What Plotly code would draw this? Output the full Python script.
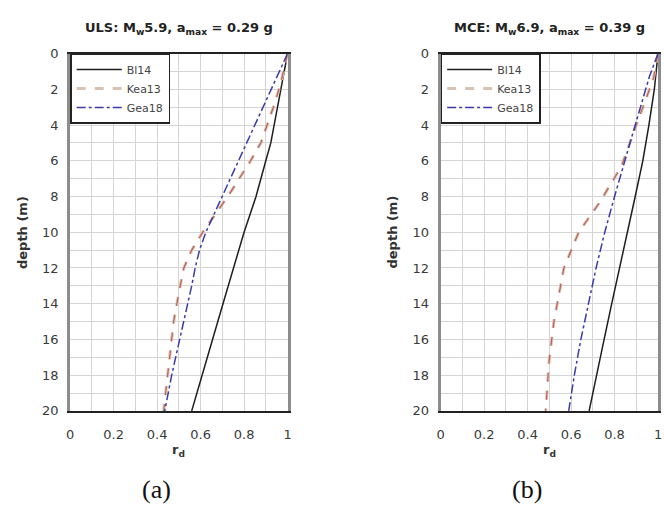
import plotly.graph_objects as go

# ---- data: depth (m) and depth-reduction factor r_d ----
# ULS: Mw 5.9, amax = 0.29 g
uls_bl14_depth = [0, 2, 4, 5, 6, 8, 10, 12, 14, 16, 18, 20]
uls_bl14_rd = [1.0, 0.97, 0.94, 0.923, 0.90, 0.855, 0.80, 0.75, 0.703, 0.655, 0.607, 0.559]

uls_kea13_depth = [0, 1.7, 3, 5, 6, 7.7, 9, 9.9, 11, 12, 13, 15, 17.5, 20]
uls_kea13_rd = [1.0, 0.968, 0.935, 0.877, 0.83, 0.741, 0.668, 0.615, 0.559, 0.523, 0.506, 0.476, 0.453, 0.43]

uls_gea18_depth = [0, 2, 4, 6, 8, 10, 11, 12, 13, 14, 16, 18, 20]
uls_gea18_rd = [1.0, 0.925, 0.85, 0.774, 0.698, 0.624, 0.595, 0.575, 0.559, 0.54, 0.503, 0.467, 0.435]

# MCE: Mw 6.9, amax = 0.39 g
mce_bl14_depth = [0, 2, 4, 6, 8, 10, 12, 14, 16, 18, 20]
mce_bl14_rd = [1.0, 0.983, 0.958, 0.93, 0.895, 0.858, 0.822, 0.787, 0.752, 0.718, 0.683]

mce_kea13_depth = [0, 1.4, 4, 6.3, 8.3, 10, 12, 15, 17.2, 20]
mce_kea13_rd = [1.0, 0.979, 0.90, 0.832, 0.733, 0.635, 0.567, 0.521, 0.499, 0.483]

mce_gea18_depth = [0, 1.3, 4, 6, 8, 10, 12, 14, 16, 18, 20]
mce_gea18_rd = [1.0, 0.96, 0.895, 0.846, 0.80, 0.755, 0.715, 0.68, 0.645, 0.615, 0.589]

series_names = ["Bl14", "Kea13", "Gea18"]
panel_titles = ["ULS: M<sub>w</sub>5.9, a<sub>max</sub> = 0.29 g",
                "MCE: M<sub>w</sub>6.9, a<sub>max</sub> = 0.39 g"]
panel_captions = ["(a)", "(b)"]
x_ticks = [0, 0.2, 0.4, 0.6, 0.8, 1]
x_tick_text = ["0", "0.2", "0.4", "0.6", "0.8", "1"]
y_ticks = list(range(0, 21, 2))

W, H = 664, 515
FONT = "DejaVu Sans"

# plot-area rectangles in pixels (left, right, top, bottom)
panels = [(67, 287, 48, 416), (442, 662, 48, 416)]


def px(x):
    return x / W


def py(y):
    return 1 - y / H


fig = go.Figure()

data = [
    [(uls_bl14_depth, uls_bl14_rd), (uls_kea13_depth, uls_kea13_rd), (uls_gea18_depth, uls_gea18_rd)],
    [(mce_bl14_depth, mce_bl14_rd), (mce_kea13_depth, mce_kea13_rd), (mce_gea18_depth, mce_gea18_rd)],
]

for i, panel in enumerate(data):
    xa = "x" if i == 0 else "x2"
    ya = "y" if i == 0 else "y2"
    lg = "legend" if i == 0 else "legend2"
    (d0, r0), (d1, r1), (d2, r2) = panel
    fig.add_trace(go.Scatter(x=r0, y=d0, mode="lines", name=series_names[0],
                             line=dict(color="#1e1e1e", width=1.5),
                             xaxis=xa, yaxis=ya, legend=lg))
    fig.add_trace(go.Scatter(x=r1, y=d1, mode="lines", name=series_names[1],
                             line=dict(color="#d8c3b0", width=3, dash="dash"),
                             xaxis=xa, yaxis=ya, legend=lg))
    fig.add_trace(go.Scatter(x=r1, y=d1, mode="lines", name=series_names[1],
                             line=dict(color="#bf5a55", width=1.1, dash="dash"),
                             xaxis=xa, yaxis=ya, legend=lg, showlegend=False))
    fig.add_trace(go.Scatter(x=r2, y=d2, mode="lines", name=series_names[2],
                             line=dict(color="#3a3aa8", width=1.5, dash="dashdot"),
                             xaxis=xa, yaxis=ya, legend=lg))

axis_common_x = dict(
    range=[0, 1], tickvals=x_ticks, ticktext=x_tick_text,
    showgrid=True, gridcolor="#d4d4d4", gridwidth=1,
    minor=dict(dtick=0.1, showgrid=True, gridcolor="#d4d4d4", gridwidth=1),
    showline=True, linecolor="#222222", linewidth=2, mirror=True,
    ticks="", zeroline=False, ticklabelstandoff=11,
    tickfont=dict(family=FONT, size=13, color="#3a3a3a"),
    fixedrange=True,
)
axis_common_y = dict(
    range=[20, 0], tickvals=y_ticks,
    showgrid=True, gridcolor="#d4d4d4", gridwidth=1,
    minor=dict(dtick=1, showgrid=True, gridcolor="#d4d4d4", gridwidth=1),
    showline=True, linecolor="#8c8c8c", linewidth=3, mirror=True,
    ticks="", zeroline=False, ticklabelstandoff=6,
    tickfont=dict(family=FONT, size=13, color="#3a3a3a"),
    fixedrange=True,
)

(l0, r0_, t0, b0), (l1, r1_, t1, b1) = panels
fig.update_layout(
    width=W, height=H,
    margin=dict(l=0, r=0, t=0, b=0),
    paper_bgcolor="white", plot_bgcolor="white",
    xaxis=dict(domain=[px(l0), px(r0_)], anchor="y", **axis_common_x),
    yaxis=dict(domain=[py(b0), py(t0)], anchor="x", **axis_common_y),
    xaxis2=dict(domain=[px(l1), px(r1_)], anchor="y2", **axis_common_x),
    yaxis2=dict(domain=[py(b1), py(t1)], anchor="x2", **axis_common_y),
    showlegend=True,
)

legend_style = dict(
    xanchor="left", yanchor="top",
    bgcolor="white", bordercolor="#222222", borderwidth=1.5,
    font=dict(family=FONT, size=11, color="#444444"),
    itemwidth=45, tracegroupgap=0,
)
fig.update_layout(
    legend=dict(x=px(l0), y=py(t0), **legend_style),
    legend2=dict(x=px(l1), y=py(t1), **legend_style),
)

annotations = []
for i, (l, r, t, b) in enumerate(panels):
    cx = (l + r) / 2
    annotations.append(dict(text="<b>" + panel_titles[i] + "</b>", x=px(cx), y=py(22),
                            xref="paper", yref="paper", showarrow=False,
                            xanchor="center", yanchor="middle",
                            font=dict(family=FONT, size=13, color="#222222")))
    annotations.append(dict(text="<b>r<sub>d</sub></b>", x=px(cx), y=py(457),
                            xref="paper", yref="paper", showarrow=False,
                            xanchor="center", yanchor="middle",
                            font=dict(family=FONT, size=13, color="#333333")))
    annotations.append(dict(text="<b>depth (m)</b>", x=px(l - 49), y=py((t + b) / 2),
                            xref="paper", yref="paper", showarrow=False, textangle=-90,
                            xanchor="center", yanchor="middle",
                            font=dict(family=FONT, size=13, color="#333333")))
for cap, cx in zip(panel_captions, [154, 529]):
    annotations.append(dict(text=cap, x=px(cx), y=py(497), xref="paper", yref="paper",
                            showarrow=False, xanchor="center", yanchor="middle",
                            font=dict(family="Liberation Serif", size=26, color="#111111")))
fig.update_layout(annotations=annotations)

fig.write_html("out.html")
